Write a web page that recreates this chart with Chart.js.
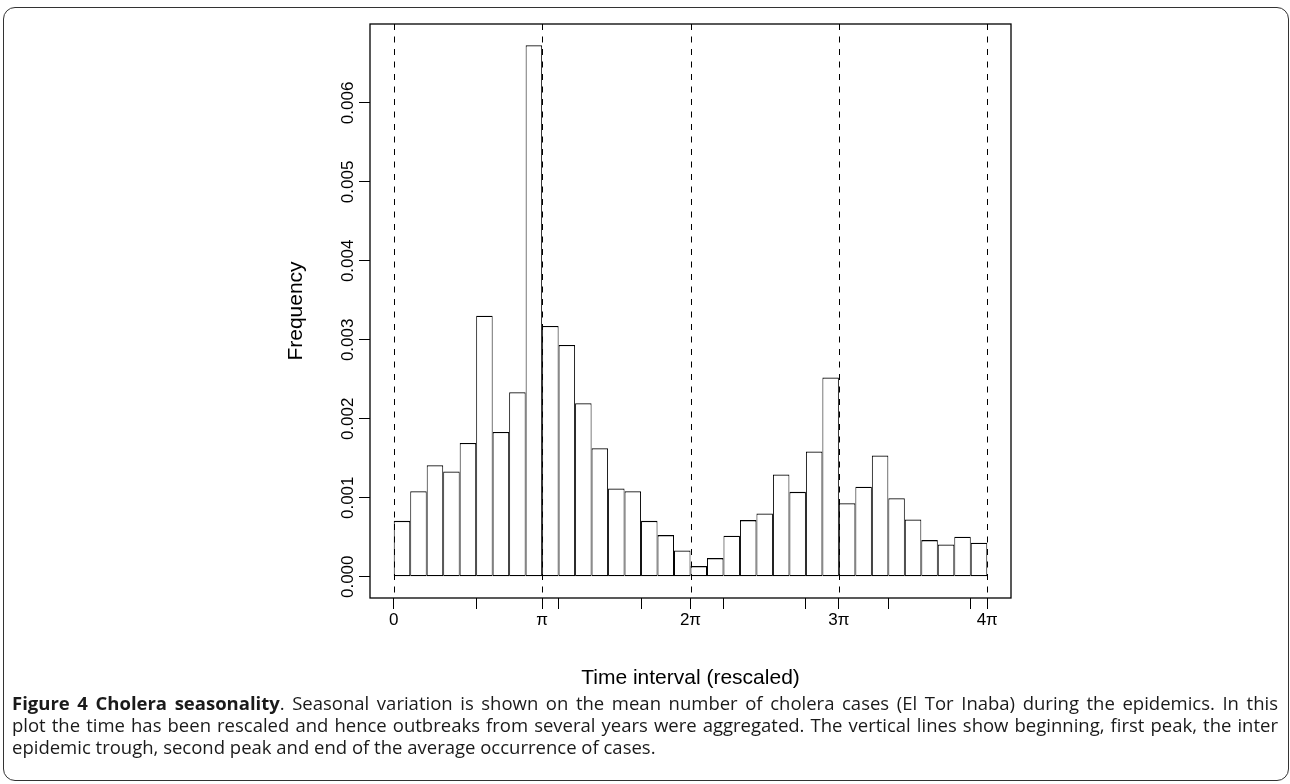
<!DOCTYPE html>
<html>
<head>
<meta charset="utf-8">
<script src="https://cdn.jsdelivr.net/npm/chart.js@4.4.1/dist/chart.umd.min.js"></script>
<style>
  html, body { margin: 0; padding: 0; background: #fff; }
  body { width: 1290px; height: 784px; position: relative; overflow: hidden; }
  #frame { position: absolute; left: 3px; top: 7px; width: 1286px; height: 774px; border: 1.5px solid #333; border-radius: 12px; box-sizing: border-box; }
  #wrap { position: absolute; left: 0; top: 0; width: 1290px; height: 700px; }
  #caption { position: absolute; left: 12px; top: 692px; width: 1266px; font-family: "Open Sans", "Noto Sans", sans-serif; font-size: 18.5px; line-height: 22px; color: #1a1a1a; }
  #caption div { text-align: justify; text-align-last: justify; white-space: nowrap; }
  #caption div.last { text-align-last: left; }
</style>
</head>
<body>
<div id="frame"></div>
<div id="wrap"><canvas id="histChart" width="1290" height="700"></canvas></div>
<div id="caption">
  <div><b>Figure 4 Cholera seasonality</b>. Seasonal variation is shown on the mean number of cholera cases (El Tor Inaba) during the epidemics. In this</div>
  <div>plot the time has been rescaled and hence outbreaks from several years were aggregated. The vertical lines show beginning, first peak, the inter</div>
  <div class="last">epidemic trough, second peak and end of the average occurrence of cases.</div>
</div>
<script>
// 36 bins over 4*pi, each bin is pi/9 wide
const binWidth = Math.PI / 9;
const freq = [
  0.000708, 0.001084, 0.001413, 0.001332, 0.001695, 0.003306, 0.001834, 0.002336, 0.006730,
  0.003175, 0.002935, 0.002197, 0.001628, 0.001117, 0.001084, 0.000708, 0.000527, 0.000333,
  0.000135, 0.000236, 0.000519, 0.000717, 0.000801, 0.001294, 0.001075, 0.001585, 0.002522,
  0.000932, 0.001139, 0.001535, 0.000995, 0.000725, 0.000464, 0.000409, 0.000506, 0.000430
];
// marked positions (multiples of pi) with their labels, plus the plain ticks (in bins)
const piMarks = [0, 1, 2, 3, 4];
const piLabels = ['0', '\u03C0', '2\u03C0', '3\u03C0', '4\u03C0'];
const plainTickBins = [5, 10, 15, 20, 25, 30, 35];
const yTicks = [0, 0.001, 0.002, 0.003, 0.004, 0.005, 0.006];
const yTickLabels = ['0.000', '0.001', '0.002', '0.003', '0.004', '0.005', '0.006'];

const axisFont = '17px "Liberation Sans", Arial, sans-serif';
const titleFont = '21px "Liberation Sans", Arial, sans-serif';

const xSpan = 4 * Math.PI;
const yMax = Math.max(...freq);

const rDecor = {
  id: 'rDecor',
  afterDatasetsDraw(chart) {
    const { ctx, chartArea: ca, scales: { x } } = chart;
    ctx.save();
    ctx.strokeStyle = '#000';
    ctx.lineWidth = 1;
    ctx.setLineDash([6, 6.5]);
    piMarks.forEach(m => {
      const px = Math.round(x.getPixelForValue(m * Math.PI)) + 0.5;
      ctx.beginPath();
      ctx.moveTo(px, ca.top);
      ctx.lineTo(px, ca.bottom);
      ctx.stroke();
    });
    ctx.restore();
  },
  afterDraw(chart) {
    const { ctx, chartArea: ca, scales: { y } } = chart;
    ctx.save();
    ctx.strokeStyle = '#000';
    ctx.lineWidth = 1.3;
    ctx.strokeRect(ca.left, ca.top, ca.right - ca.left, ca.bottom - ca.top);

    ctx.fillStyle = '#000';
    ctx.font = axisFont;
    ctx.textAlign = 'center';
    ctx.textBaseline = 'alphabetic';
    yTicks.forEach((v, i) => {
      const py = y.getPixelForValue(v);
      ctx.save();
      ctx.translate(ca.left - 17, py);
      ctx.rotate(-Math.PI / 2);
      ctx.fillText(yTickLabels[i], 0, 0);
      ctx.restore();
    });

    ctx.font = titleFont;
    ctx.save();
    ctx.translate(ca.left - 68, (ca.top + ca.bottom) / 2);
    ctx.rotate(-Math.PI / 2);
    ctx.fillText('Frequency', 0, 0);
    ctx.restore();

    ctx.fillText('Time interval (rescaled)', (ca.left + ca.right) / 2, ca.bottom + 86);
    ctx.restore();
  }
};

new Chart(document.getElementById('histChart'), {
  type: 'bar',
  data: {
    datasets: [{
      data: freq.map((v, i) => ({ x: (i + 0.5) * binWidth, y: v })),
      backgroundColor: '#ffffff',
      borderColor: '#000000',
      borderWidth: { top: 1.3, bottom: 1.3, left: 1, right: 1 },
      borderSkipped: false,
      inflateAmount: 0,
      barPercentage: 1,
      categoryPercentage: 1
    }]
  },
  options: {
    responsive: false,
    animation: false,
    devicePixelRatio: 1,
    layout: { padding: { left: 270, top: 24, right: 279, bottom: 62 } },
    plugins: { legend: { display: false }, tooltip: { enabled: false } },
    scales: {
      x: {
        type: 'linear',
        offset: false,
        min: -0.04 * xSpan,
        max: 1.04 * xSpan,
        afterBuildTicks: s => {
          const vals = piMarks.map(m => m * Math.PI).concat(plainTickBins.map(b => b * binWidth));
          s.ticks = vals.sort((a, b) => a - b).map(v => ({ value: v }));
        },
        afterFit: s => { s.height = 40; },
        border: { display: false },
        grid: { offset: false, drawOnChartArea: false, drawTicks: true, tickLength: 11, tickColor: '#000', lineWidth: 1 },
        ticks: {
          autoSkip: false,
          maxRotation: 0,
          padding: 1,
          color: '#000',
          font: { family: '"Liberation Sans", Arial, sans-serif', size: 17 },
          callback: v => {
            const k = piMarks.findIndex(m => Math.abs(m * Math.PI - v) < 1e-6);
            return k >= 0 ? piLabels[k] : '';
          }
        }
      },
      y: {
        type: 'linear',
        min: -0.04 * yMax,
        max: 1.04 * yMax,
        afterBuildTicks: s => { s.ticks = yTicks.map(v => ({ value: v })); },
        afterFit: s => { s.width = 100; },
        border: { display: false },
        grid: { drawOnChartArea: false, drawTicks: true, tickLength: 11, tickColor: '#000', lineWidth: 1 },
        ticks: { display: false }
      }
    }
  },
  plugins: [rDecor]
});
</script>
</body>
</html>
